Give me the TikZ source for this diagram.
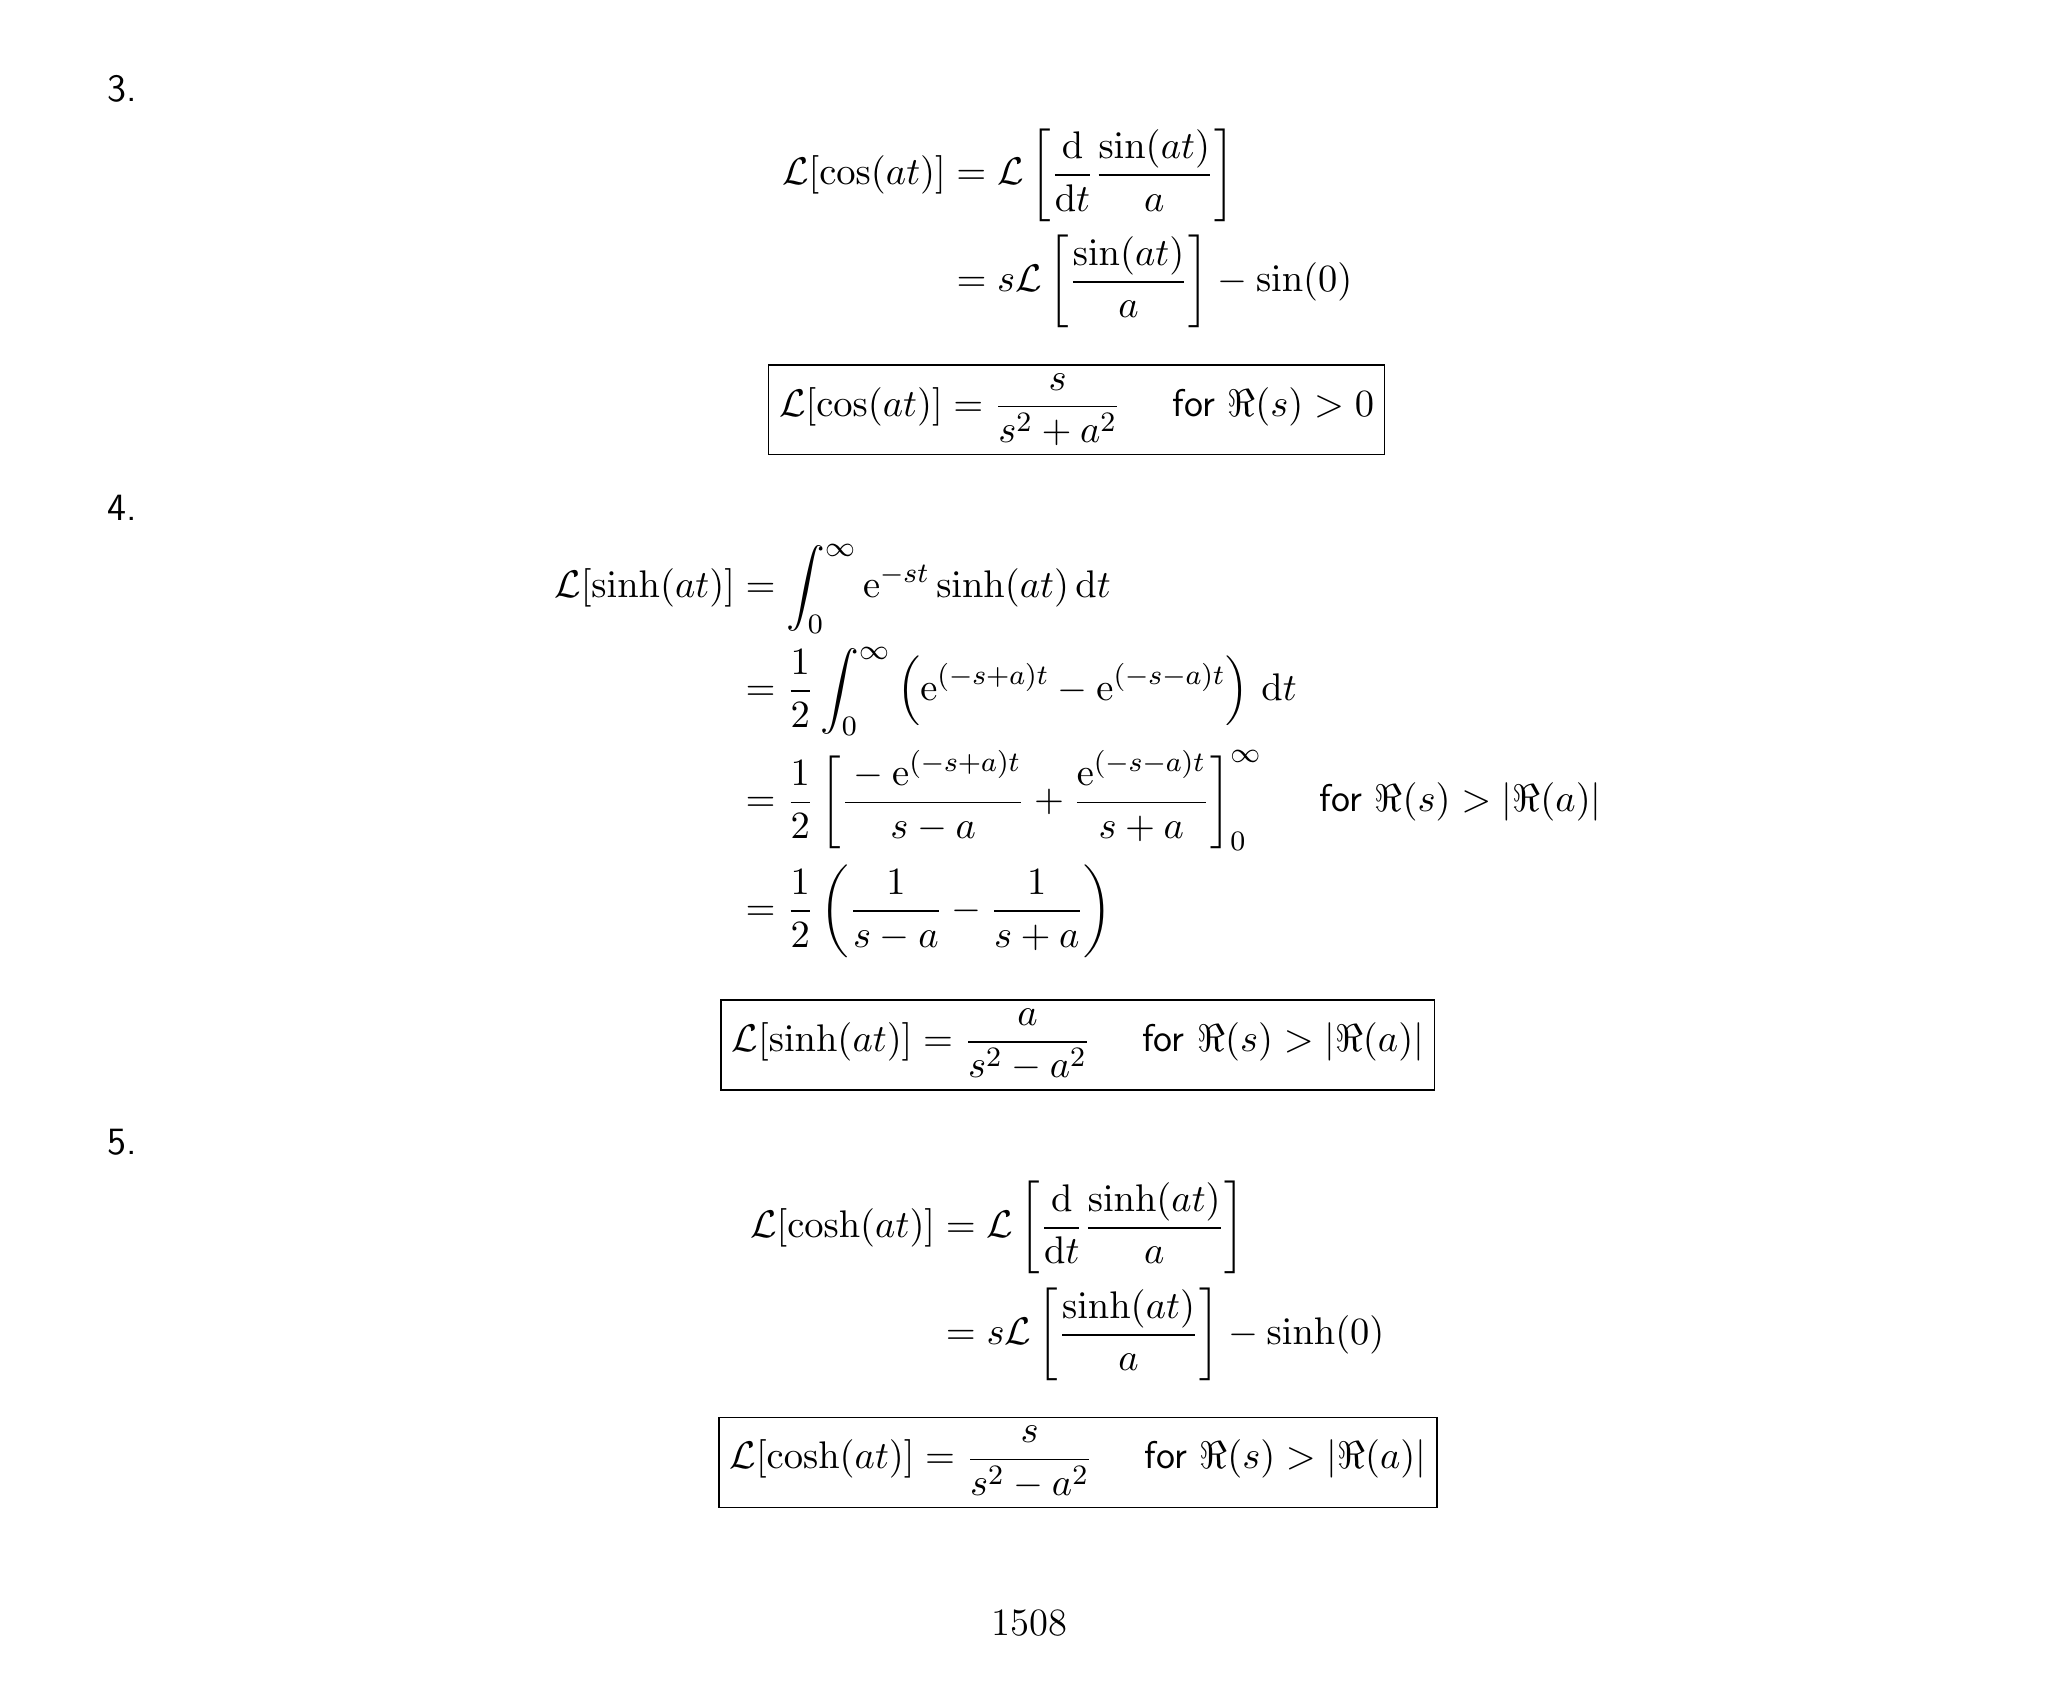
\documentclass[tikz,border=0pt]{standalone}
\usepackage{amsmath,amssymb}
\newcommand{\fr}{\text{\sffamily for }}
\newcommand{\dd}{\mathrm{d}}
\newcommand{\ee}{\mathrm{e}}
\begin{document}
\begin{tikzpicture}[x=0.01313cm,y=-0.01313cm,
  txt/.style={inner sep=0pt,font=\fontsize{11}{13.5}\selectfont},
  lbl/.style={txt,font=\fontsize{11}{13.5}\selectfont\sffamily},
  boxed/.style={txt,draw,line width=0.5pt,inner xsep=3pt,inner ysep=2.5pt}]
\useasboundingbox (0,0) rectangle (1560,1285);
\node[lbl] (n3) at (93,68) {3.};
\node[txt] (e1) at (813,174) {$\displaystyle\begin{aligned}
\mathcal{L}[\cos(at)] &= \mathcal{L}\left[\frac{\dd}{\dd t}\frac{\sin(at)}{a}\right]\\
&= s\mathcal{L}\left[\frac{\sin(at)}{a}\right]-\sin(0)
\end{aligned}$};
\node[boxed] (b1) at (820,312) {$\displaystyle\mathcal{L}[\cos(at)] = \frac{s}{s^2+a^2}\quad\ \fr\Re(s)>0$};
\node[lbl] (n4) at (93,387) {4.};
\node[txt] (e2) at (821,572) {$\displaystyle\begin{aligned}
\mathcal{L}[\sinh(at)] &= \int_0^\infty \ee^{-st}\sinh(at)\,\dd t\\
&= \frac12\int_0^\infty \left(\ee^{(-s+a)t}-\ee^{(-s-a)t}\right)\,\dd t\\
&= \frac12\left[\frac{{}-\ee^{(-s+a)t}}{s-a}+\frac{\ee^{(-s-a)t}}{s+a}\right]_0^\infty\quad\ \fr\Re(s)>|\Re(a)|\\
&= \frac12\left(\frac1{s-a}-\frac1{s+a}\right)
\end{aligned}$};
\node[boxed] (b2) at (821,796) {$\displaystyle\mathcal{L}[\sinh(at)] = \frac{a}{s^2-a^2}\quad\ \fr\Re(s)>|\Re(a)|$};
\node[lbl] (n5) at (93,870) {5.};
\node[txt] (e3) at (813,976) {$\displaystyle\begin{aligned}
\mathcal{L}[\cosh(at)] &= \mathcal{L}\left[\frac{\dd}{\dd t}\frac{\sinh(at)}{a}\right]\\
&= s\mathcal{L}\left[\frac{\sinh(at)}{a}\right]-\sinh(0)
\end{aligned}$};
\node[boxed] (b3) at (821,1114) {$\displaystyle\mathcal{L}[\cosh(at)] = \frac{s}{s^2-a^2}\quad\ \fr\Re(s)>|\Re(a)|$};
\node[txt] (pg) at (784,1236) {1508};
\end{tikzpicture}
\end{document}
